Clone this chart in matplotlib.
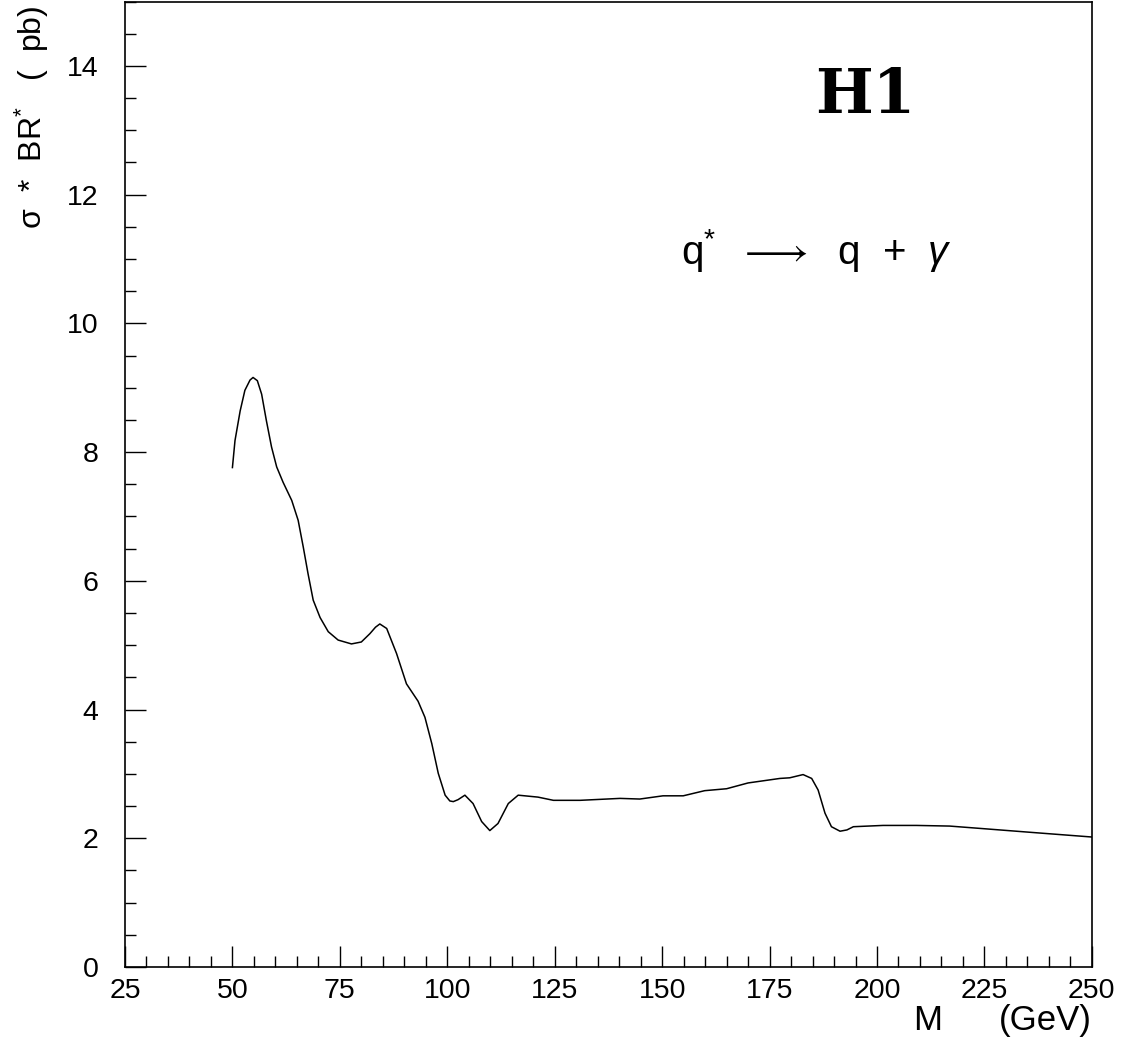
"""
Limite sur sigma * BR pour q* -> q + gamma en fonction de la masse M
"""

import matplotlib.pyplot as plt
from matplotlib.ticker import MultipleLocator

# =============================
# Données
# =============================
masse_GeV = [50.0, 50.6, 51.8, 52.9, 54.1, 54.8, 55.8, 56.8, 57.9, 59.1,
             60.3, 61.8, 63.8, 65.3, 66.5, 67.6, 68.8, 70.4, 72.3, 74.6,
             77.7, 80.0, 82.0, 83.3, 84.3, 85.9, 88.2, 90.5, 93.2, 94.8, 96.4,
             97.9, 99.5, 100.6, 101.4, 102.5, 104.1, 106.0, 108.0, 109.9, 111.8,
             114.2, 116.5, 121.1, 124.7, 130.9, 140.2, 144.8, 150.2, 154.9, 159.9,
             165.0, 170.0, 177.4, 179.7, 182.8, 184.8, 186.3, 187.9, 189.4, 191.4,
             193.0, 194.5, 201.4, 209.2, 216.9, 224.7, 236.3, 250.0]
sigma_br_pb = [7.76, 8.18, 8.64, 8.96, 9.12, 9.16, 9.11, 8.90, 8.49, 8.08,
               7.77, 7.53, 7.25, 6.94, 6.52, 6.11, 5.70, 5.43, 5.21, 5.08,
               5.02, 5.05, 5.18, 5.28, 5.33, 5.26, 4.87, 4.40, 4.13, 3.88, 3.47,
               3.01, 2.67, 2.58, 2.57, 2.60, 2.67, 2.54, 2.26, 2.12, 2.23,
               2.54, 2.67, 2.64, 2.59, 2.59, 2.62, 2.61, 2.66, 2.66, 2.74,
               2.77, 2.86, 2.93, 2.94, 2.99, 2.93, 2.75, 2.39, 2.18, 2.11,
               2.13, 2.18, 2.20, 2.20, 2.19, 2.15, 2.09, 2.02]

police = "Liberation Sans"
plt.rcParams["font.family"] = [police, "DejaVu Sans"]
plt.rcParams["mathtext.fontset"] = "custom"
plt.rcParams["mathtext.rm"] = police
plt.rcParams["mathtext.it"] = police + ":italic"

# =============================
# Affichage graphique
# =============================
fig = plt.figure(figsize=(11.21, 10.46), dpi=100)
ax = fig.add_axes([0.1115, 0.0755, 0.8625, 0.923])
ax.plot(masse_GeV, sigma_br_pb, color="black", lw=1.1, solid_joinstyle="round")

ax.set_xlim(25, 250)
ax.set_ylim(0, 15)
ax.xaxis.set_major_locator(MultipleLocator(25))
ax.xaxis.set_minor_locator(MultipleLocator(5))
ax.yaxis.set_major_locator(MultipleLocator(2))
ax.yaxis.set_minor_locator(MultipleLocator(0.5))
ax.tick_params(which="both", direction="in", top=False, right=False,
               labelsize=20.5, width=1.0)
ax.tick_params(axis="x", pad=8)
ax.tick_params(axis="y", pad=19)
ax.tick_params(which="major", length=15)
ax.tick_params(which="minor", length=8)
for s in ax.spines.values():
    s.set_linewidth(1.2)

fig.text(0.028, 0.995, "σ  *  BR$^{*}$   (  pb)", rotation=90, fontsize=23,
         ha="center", va="top")
ax.text(0.83, -0.038, "M", transform=ax.transAxes, fontsize=25,
        ha="center", va="top")
ax.text(1.0, -0.038, "(GeV)", transform=ax.transAxes, fontsize=25,
        ha="right", va="top")

ax.text(0.766, 0.902, "H1", transform=ax.transAxes, fontsize=44,
        family="DejaVu Serif", weight="bold", ha="center", va="center")
ax.text(0.715, 0.742, r"q$^{*}$  $\longrightarrow$  q  +  $\gamma$",
        transform=ax.transAxes, fontsize=29, ha="center", va="center")

fig.savefig("out.png", dpi=100)
